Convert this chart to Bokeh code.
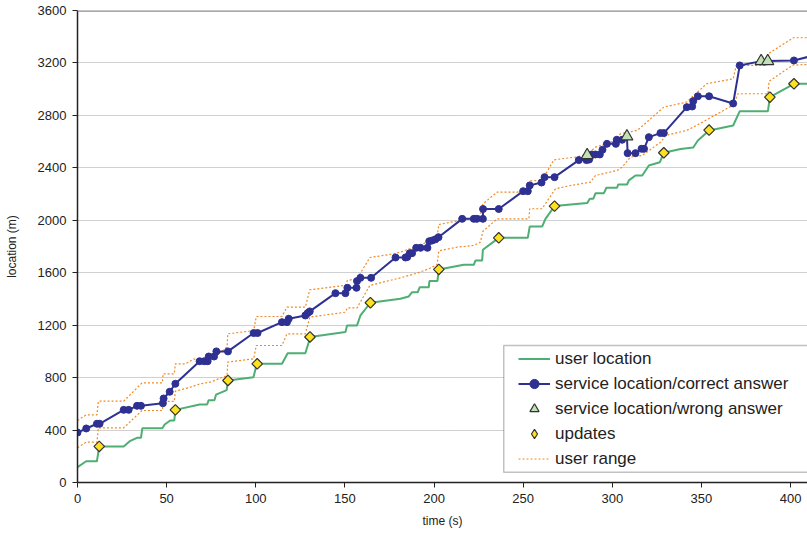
from bokeh.plotting import figure
from bokeh.models import Range1d, Legend, LegendItem, Span, BoxAnnotation, FixedTicker
from bokeh.embed import file_html
from bokeh.resources import INLINE

# ---------------- data ----------------
user_t = [0, 4.9, 10.9, 12.2, 25.9, 29.3, 33.4, 35.6, 36.4, 47.6, 48.9, 52.0, 54.3, 54.9, 68.5, 72.7,
          73.6, 76.8, 77.7, 83.7, 84.4, 98.7, 100.6, 114.7, 117.9, 127.8, 129.7, 130.4, 150.3, 151.2,
          156.8, 158.7, 164.3, 181.1, 185.8, 187.7, 190.9, 192.0, 197.1, 197.4, 201.9, 202.7, 216.7,
          222.3, 223.2, 227.0, 227.4, 236.3, 252.6, 253.7, 260.7, 262.5, 267.6, 285.9, 287.4, 289.3,
          290.6, 295.3, 296.7, 302.7, 303.3, 308.3, 309.3, 313.0, 316.8, 320.5, 326.7, 328.9, 338.3,
          345.4, 348.0, 354.3, 367.8, 371.5, 387.3, 388.4, 401.9, 412]
user_loc = [117, 162, 162, 275, 275, 315, 341, 341, 414, 414, 442, 473, 473, 554, 595, 595, 628, 628,
            670, 705, 778, 803, 905, 905, 986, 986, 1070, 1110, 1147, 1198, 1198, 1274, 1371, 1401,
            1419, 1452, 1452, 1490, 1490, 1536, 1536, 1625, 1660, 1660, 1693, 1693, 1775, 1866, 1866,
            1953, 1953, 2011, 2108, 2131, 2164, 2164, 2207, 2207, 2248, 2248, 2273, 2273, 2304, 2342,
            2342, 2418, 2443, 2515, 2543, 2555, 2609, 2685, 2723, 2832, 2832, 2939, 3041, 3041]

svc_t = [0, 4.9, 10.9, 12.4, 25.9, 28.7, 33.4, 35.6, 47.9, 48.3, 51.7, 54.9, 68.5, 71.1, 73.0, 73.6,
         76.6, 77.9, 84.4, 98.8, 101.0, 114.7, 117.5, 118.5, 127.8, 129.1, 130.3, 144.7, 150.3, 151.4,
         156.5, 156.8, 158.7, 164.7, 178.4, 184.0, 185.0, 186.4, 187.7, 190.0, 192.4, 196.3, 197.3,
         199.0, 200.8, 202.5, 215.8, 222.3, 224.0, 227.4, 227.5, 236.3, 250.0, 252.6, 253.7, 260.3,
         262.0, 267.6, 281.2, 285.5, 285.9, 287.0, 288.5, 290.5, 293.0, 294.5, 297.0, 302.0, 302.5,
         305.5, 308.2, 308.6, 313.0, 316.4, 317.8, 320.5, 327.0, 328.9, 341.8, 344.8, 345.4, 348.0,
         354.3, 367.8, 371.5, 383.5, 387.2, 401.9, 412]
svc_loc = [381, 412, 448, 448, 554, 554, 585, 585, 605, 641, 692, 753, 925, 925, 925, 961, 961, 1000,
           1000, 1140, 1140, 1223, 1223, 1249, 1274, 1292, 1305, 1444, 1444, 1485, 1485, 1536, 1561,
           1561, 1716, 1716, 1720, 1749, 1749, 1790, 1790, 1790, 1840, 1846, 1855, 1871, 2011, 2011,
           2011, 2011, 2086, 2086, 2222, 2222, 2266, 2288, 2329, 2329, 2459, 2459, 2496, 2463, 2502,
           2502, 2502, 2538, 2583, 2583, 2614, 2614, 2639, 2512, 2512, 2545, 2545, 2634, 2665, 2665,
           2863, 2868, 2909, 2946, 2946, 2891, 3181, 3214, 3214, 3219, 3254]
wrong_t = [285.9, 308.2, 383.5, 387.2]

upd_t = [12.2, 54.9, 84.4, 100.8, 130.4, 164.3, 202.7, 236.3, 267.6, 328.9, 354.3, 388.4, 401.9]
upd_loc = [275, 554, 778, 905, 1110, 1371, 1625, 1866, 2108, 2515, 2688, 2939, 3041]

hi_t = [0, 4.9, 10.9, 11.7, 25.9, 36.2, 47.6, 48.0, 54.3, 54.9, 60.5, 65.2, 76.0, 77.9, 83.9, 84.3,
        98.8, 100.3, 114.7, 117.5, 127.8, 130.3, 150.3, 151.4, 156.8, 164.0, 177.4, 181.1, 186.4,
        191.4, 197.1, 201.7, 202.7, 222.3, 226.0, 227.4, 235.4, 253.2, 253.7, 260.6, 267.2, 279.4,
        285.9, 290.6, 300.0, 304.6, 314.0, 328.9, 341.6, 352.9, 367.8, 369.6, 386.4, 387.5, 401.5, 412]
hi_loc = [473, 516, 516, 620, 620, 760, 760, 829, 829, 905, 905, 941, 941, 969, 1032, 1134, 1159, 1266,
          1266, 1337, 1337, 1470, 1503, 1541, 1554, 1716, 1744, 1757, 1783, 1800, 1846, 1871, 1968,
          2019, 2040, 2125, 2215, 2215, 2300, 2304, 2461, 2482, 2502, 2558, 2600, 2660, 2685, 2863,
          2901, 3041, 3079, 3181, 3181, 3270, 3392, 3392]
lo_t = [0, 4.9, 10.9, 11.7, 25.9, 36.2, 47.6, 48.0, 54.3, 54.9, 63.3, 68.9, 74.5, 83.9, 84.3, 98.8,
        100.3, 114.7, 117.5, 127.8, 130.3, 150.3, 151.4, 156.8, 164.0, 181.1, 190.5, 197.1, 201.7,
        202.7, 213.0, 222.3, 226.0, 227.4, 235.4, 253.2, 253.7, 260.6, 268.1, 276.5, 287.8, 290.6,
        302.7, 305.5, 310.2, 316.8, 327.1, 329.9, 341.6, 345.4, 368.0, 370.5, 387.3, 387.9, 401.5, 412]
lo_loc = [265, 308, 308, 417, 417, 549, 549, 618, 618, 697, 727, 753, 765, 816, 918, 943, 1045, 1045,
          1134, 1134, 1261, 1299, 1332, 1332, 1503, 1561, 1597, 1630, 1663, 1767, 1795, 1808, 1833,
          1915, 2011, 2011, 2088, 2088, 2240, 2265, 2291, 2342, 2380, 2405, 2482, 2494, 2596, 2647,
          2685, 2710, 2880, 2965, 2965, 3060, 3185, 3188]

x_ticks = [0, 50, 100, 150, 200, 250, 300, 350, 400]
y_ticks = [0, 400, 800, 1200, 1600, 2000, 2400, 2800, 3200, 3600]

# ---------------- figure ----------------
FONT = "Liberation Sans"
p = figure(width=807, height=533, output_backend="svg", toolbar_location=None,
           x_range=Range1d(0, 409.5), y_range=Range1d(0, 3600),
           min_border_left=77, min_border_right=0, min_border_top=10, min_border_bottom=51)
p.outline_line_color = None
p.background_fill_color = "white"

p.xgrid.visible = False
p.ygrid.grid_line_color = "#a0a0a0"
p.ygrid.grid_line_dash = "1 1"
p.ygrid.grid_line_width = 1

for ax, ticks in ((p.xaxis[0], x_ticks), (p.yaxis[0], y_ticks)):
    ax.ticker = FixedTicker(ticks=ticks)
    ax.minor_tick_line_color = None
    ax.major_tick_in = 0
    ax.major_tick_out = 5
    ax.axis_line_color = "#222222"
    ax.axis_line_width = 1.5
    ax.major_tick_line_color = "#222222"
    ax.major_label_text_font = FONT
    ax.major_label_text_font_size = "13px"
    ax.major_label_text_color = "#222222"
    ax.axis_label_text_font = FONT
    ax.axis_label_text_font_size = "12px"
    ax.axis_label_text_font_style = "normal"
    ax.axis_label_text_color = "#222222"

p.xaxis.axis_label = "time (s)"
p.yaxis.axis_label = "location (m)"
p.xaxis.major_label_standoff = 6
p.xaxis.axis_label_standoff = 8
p.yaxis.major_label_standoff = 6
p.yaxis.axis_label_standoff = 16

p.add_layout(Span(location=y_ticks[-1], dimension="width", line_color="#8c8c8c", line_width=2.5))

# ---------------- series ----------------
r_hi = p.line(hi_t, hi_loc, line_color="#f08a24", line_width=1.2, line_dash="2 2")
r_lo = p.line(lo_t, lo_loc, line_color="#f08a24", line_width=1.2, line_dash="2 2")
r_user = p.line(user_t, user_loc, line_color="#4fae73", line_width=2)
r_svc_line = p.line(svc_t, svc_loc, line_color="#2e3192", line_width=2)

ok_t = [t for t in svc_t if t not in wrong_t]
ok_loc = [v for t, v in zip(svc_t, svc_loc) if t not in wrong_t]
bad_loc = [v for t, v in zip(svc_t, svc_loc) if t in wrong_t]
r_svc_pts = p.scatter(ok_t, ok_loc, marker="circle", size=7, fill_color="#2e3192", line_color="#2e3192")
r_upd = p.scatter(upd_t, upd_loc, marker="square", angle=0.7853981634, size=7.5,
                  fill_color="#ffe21f", line_color="#333333", line_width=1.2)
r_wrong = p.scatter(wrong_t, bad_loc, marker="triangle", size=12,
                    fill_color="#c2e0b6", line_color="#333333", line_width=1.2)
# legend-only swatch for the rotated-square "updates" marker (a single non-plottable point)
nan = float("nan")
r_upd_key = p.scatter([nan], [nan], marker="diamond", size=10,
                      fill_color="#ffe21f", line_color="#333333", line_width=1.2)

# ---------------- legend ----------------
box = BoxAnnotation(left=239.1, right=430, bottom=79, top=1045, fill_color="white", fill_alpha=1.0,
                    line_color="#333333", line_width=1.5, level="annotation")
p.add_layout(box)

legend = Legend(items=[
    LegendItem(label="user location", renderers=[r_user]),
    LegendItem(label="service location/correct answer", renderers=[r_svc_line, r_svc_pts]),
    LegendItem(label="service location/wrong answer", renderers=[r_wrong]),
    LegendItem(label="updates", renderers=[r_upd_key]),
    LegendItem(label="user range", renderers=[r_hi]),
], location=(441, 11), margin=0, padding=2, spacing=0,
    glyph_width=32, glyph_height=23, label_height=25, label_standoff=5,
    label_text_font=FONT, label_text_font_size="17px", label_text_color="#222222",
    background_fill_alpha=0.0, border_line_color=None)
p.add_layout(legend)

open("out.html", "w").write(file_html(p, INLINE))
